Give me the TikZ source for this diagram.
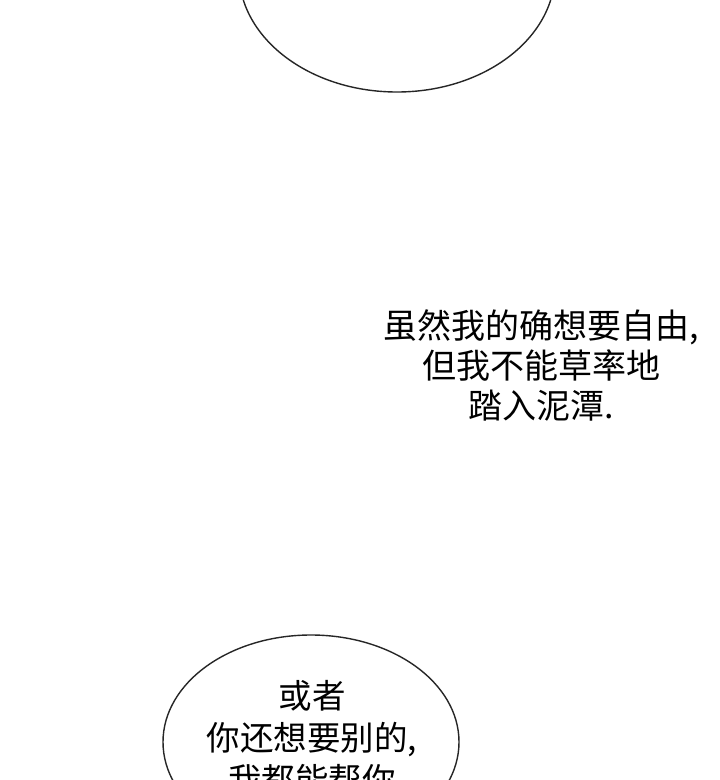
\documentclass[tikz,border=0pt]{standalone}
\usepackage{fontspec}
\newfontfamily\cjk{Noto Sans CJK SC}
\tikzset{
  bubble/.style={draw=black!85, line width=1.4pt, fill=white},
  speech/.style={align=center, font=\cjk\fontsize{34}{40}\selectfont, inner sep=0pt}
}
\begin{document}
\begin{tikzpicture}[x=1pt,y=-1pt]
  \useasboundingbox (0,0) rectangle (720,780);
  \clip (0,0) rectangle (720,780);
  \fill[white] (0,0) rectangle (720,780);

  %% top bubble, cut by the edge
  \draw[bubble] (397,-28) ellipse [x radius=158, y radius=120];

  %% free text
  \node[speech] (thought) at (541,365)
    {虽然我的确想要自由,\\但我不能草率地\\踏入泥潭.};

  %% bottom bubble
  \draw[bubble] (311,742) ellipse [x radius=148, y radius=107];
  \node[speech, font=\cjk\fontsize{33.5}{42}\selectfont, anchor=north] (offer) at (312,680)
    {或者\\你还想要别的,\\我都能帮你};
\end{tikzpicture}
\end{document}
